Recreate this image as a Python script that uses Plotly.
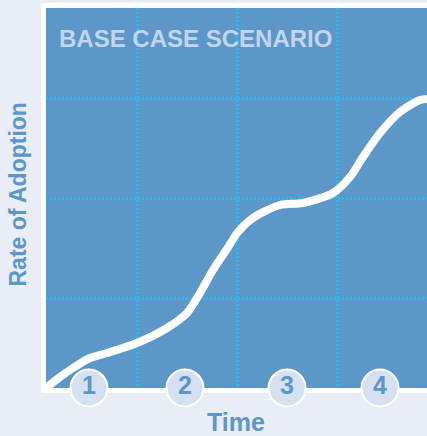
import plotly.graph_objects as go

# Data (x and y in arbitrary "pixel-like" units)
curve_x = [0, 14, 27, 44, 61, 91, 121, 141, 154, 167, 181, 192, 207, 234, 257, 287, 304, 317, 334, 354, 374, 381]
curve_y = [0, 11, 20, 30, 35, 45, 60, 75, 95, 118, 139, 156, 170, 183, 185, 195, 211, 231, 255, 276, 288, 289]
step_labels = ["1", "2", "3", "4"]
step_x = [43, 139, 241, 334]
step_y = [0, 0, 0, 0]
grid_x = [91, 191, 291]
grid_y = [90, 190, 290]

BG = "#E9EDF6"
BLUE = "#5B97C9"
GRID = "#2DB9EE"
CIRCLE = "#D5E0F0"
TITLE_C = "#C3D4EB"
FONT = "Liberation Sans"

fig = go.Figure()
fig.add_trace(go.Scatter(
    x=curve_x, y=curve_y, mode="lines",
    line=dict(color="white", width=8, shape="spline", smoothing=0.8),
    hoverinfo="skip", showlegend=False,
))
fig.add_trace(go.Scatter(
    x=step_x, y=step_y, mode="markers+text",
    text=["<b>%s</b>" % s for s in step_labels],
    textposition="middle center",
    textfont=dict(family=FONT, size=25, color=BLUE),
    marker=dict(size=37, color=CIRCLE, line=dict(color="white", width=2)),
    cliponaxis=False, hoverinfo="skip", showlegend=False,
))

fig.add_shape(type="rect", xref="paper", yref="paper",
              x0=-2.5 / 381, x1=1 + 10 / 381, y0=-2.5 / 380, y1=1 + 2.5 / 380,
              line=dict(color="white", width=5), fillcolor="rgba(0,0,0,0)", layer="below")

fig.add_annotation(text="<b>BASE CASE SCENARIO</b>", xref="paper", yref="paper",
                   x=(195.5 - 46) / 381, y=(388 - 38.5) / 380, showarrow=False,
                   xanchor="center", yanchor="middle",
                   font=dict(family=FONT, size=24, color=TITLE_C))
fig.add_annotation(text="<b>Time</b>", xref="paper", yref="paper",
                   x=(236 - 46) / 381, y=(388 - 422) / 380, showarrow=False,
                   xanchor="center", yanchor="middle",
                   font=dict(family=FONT, size=25, color=BLUE))
fig.add_annotation(text="<b>Rate of Adoption</b>", xref="paper", yref="paper",
                   x=(17.5 - 46) / 381, y=(388 - 195) / 380, showarrow=False,
                   xanchor="center", yanchor="middle", textangle=-90,
                   font=dict(family=FONT, size=23, color=BLUE))

fig.update_layout(
    width=427, height=436,
    margin=dict(l=46, r=0, t=8, b=48),
    paper_bgcolor=BG, plot_bgcolor=BLUE,
    xaxis=dict(range=[0, 381], tickvals=grid_x, showticklabels=False, ticks="",
               showgrid=True, gridcolor=GRID, gridwidth=2.5, griddash="2px,2px",
               zeroline=False, showline=False, fixedrange=True),
    yaxis=dict(range=[0, 380], tickvals=grid_y, showticklabels=False, ticks="",
               showgrid=True, gridcolor=GRID, gridwidth=2.5, griddash="2px,2px",
               zeroline=False, showline=False, fixedrange=True),
)

fig.write_html("out.html", config={"displayModeBar": False},
               post_script="document.body.style.margin='0px';document.body.style.overflow='hidden';")
